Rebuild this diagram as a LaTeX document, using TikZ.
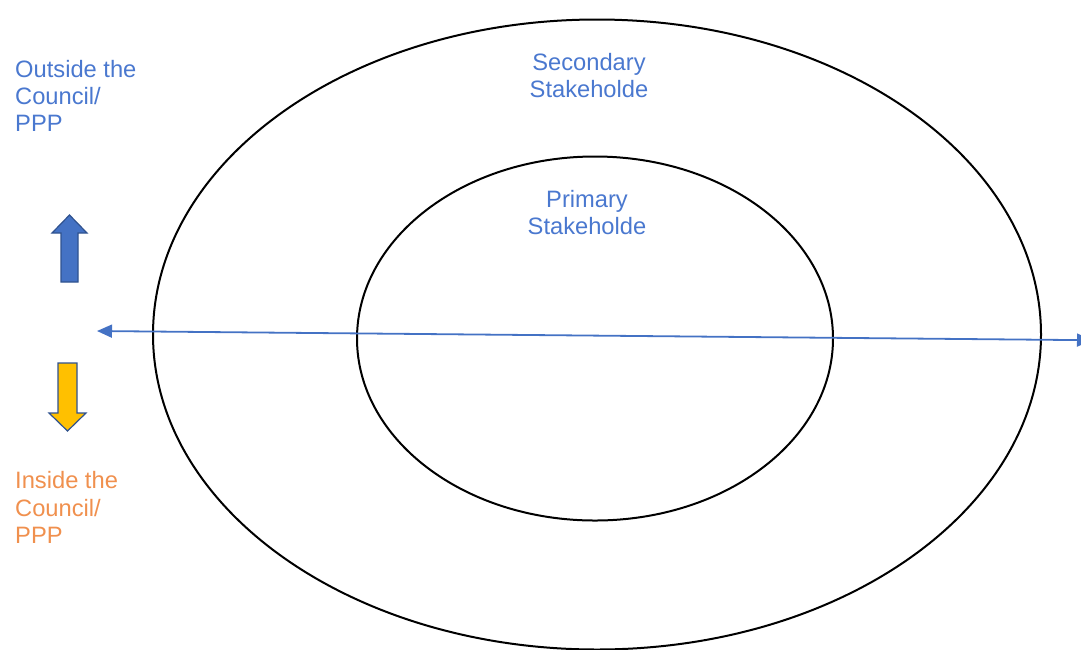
\documentclass[tikz,border=0pt]{standalone}
\usepackage{fontspec}
\setmainfont{Liberation Sans}
\usetikzlibrary{shapes.geometric,arrows.meta}
\definecolor{lblblue}{HTML}{4A78CF}
\definecolor{lblorange}{HTML}{F0904E}
\definecolor{axisblue}{HTML}{4472C4}
\definecolor{arrowblue}{HTML}{4472C4}
\definecolor{arrowedge}{HTML}{2F528F}
\definecolor{arrowyellow}{HTML}{FFC000}
\begin{document}
\begin{tikzpicture}[x=1pt,y=-1pt,
  ring/.style={draw=black,line width=2pt,ellipse,inner sep=0pt},
  label/.style={font=\fontsize{23.7}{27.3}\selectfont,inner sep=0pt},
  blockarrow/.style={draw=arrowedge,line width=1.2pt,line join=miter}]
\useasboundingbox (0,0) rectangle (1081,649);
\clip (0,0) rectangle (1081,649);

% stakeholder rings
\node[ring,minimum width=888pt,minimum height=630pt] (outer) at (597,334.5) {};
\node[ring,minimum width=476pt,minimum height=364pt] (inner) at (595,338.5) {};

\node[label,text=lblblue,align=center,anchor=north] (secondary) at (589,53) {Secondary\\Stakeholde};
\node[label,text=lblblue,align=center,anchor=north] (primary) at (587,190) {Primary\\Stakeholde};

% left-hand legend
\node[label,text=lblblue,align=left,anchor=north west] (outside) at (15,60) {Outside the\\Council/\\PPP};
\node[label,text=lblorange,align=left,anchor=north west] (inside) at (15,471.5) {Inside the\\Council/\\PPP};

\draw[blockarrow,fill=arrowblue] (61,282) -- (61,233) -- (52,233) -- (69.5,215) -- (87,233) -- (78,233) -- (78,282) -- cycle;
\draw[blockarrow,fill=arrowyellow] (58,363) -- (77,363) -- (77,413) -- (86,413) -- (67.5,431) -- (49,413) -- (58,413) -- cycle;

% boundary line
\coordinate (westend) at (97,331);
\coordinate (eastend) at (1092,340.2);
\draw[axisblue,line width=1.8pt,{Triangle[length=15pt,width=13pt]}-{Triangle[length=15pt,width=13pt]}] (westend) -- (eastend);
\end{tikzpicture}
\end{document}
